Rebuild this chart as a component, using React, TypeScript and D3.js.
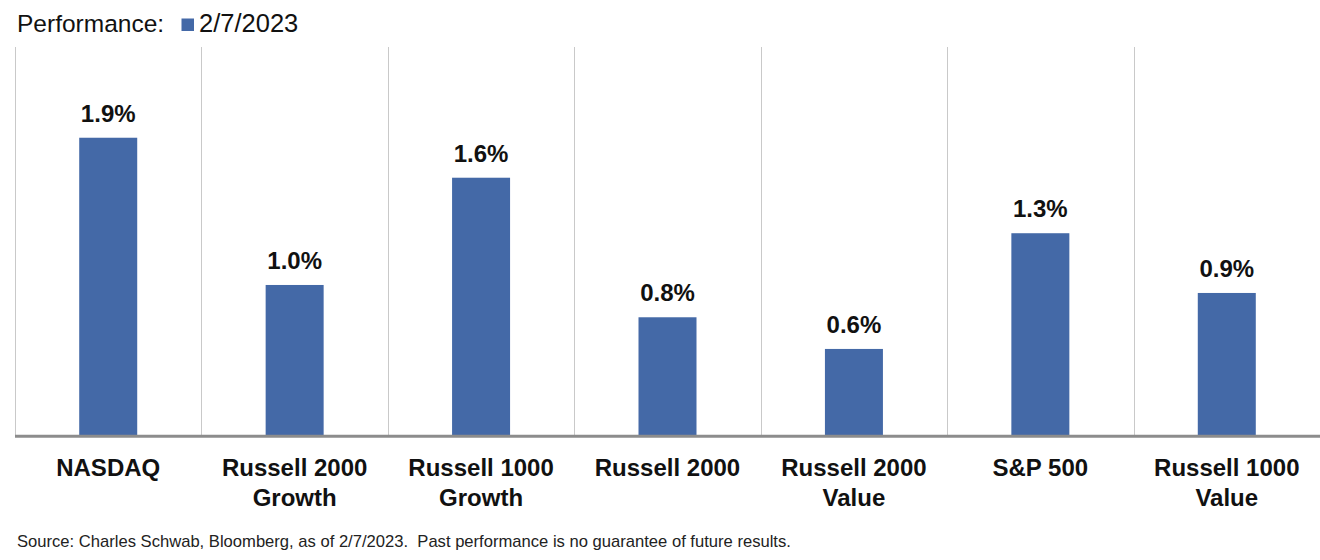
import React from "react";
import * as d3 from "d3";

const categories: string[][] = [
  ["NASDAQ"],
  ["Russell 2000", "Growth"],
  ["Russell 1000", "Growth"],
  ["Russell 2000"],
  ["Russell 2000", "Value"],
  ["S&P 500"],
  ["Russell 1000", "Value"],
];
const values: number[] = [1.899, 0.96, 1.644, 0.754, 0.552, 1.29, 0.909];
const legendTitle = "Performance:";
const seriesName = "2/7/2023";
const source =
  "Source: Charles Schwab, Bloomberg, as of 2/7/2023.  Past performance is no guarantee of future results.";

const W = 1320;
const H = 560;
const BAR = "#4469a7";
const FONT = "'Liberation Sans', Arial, sans-serif";

export default function App() {
  const left = 15;
  const right = 1320;
  const baseline = 435.5;
  const x = d3
    .scaleBand<number>()
    .domain(categories.map((_, i) => i))
    .range([left, right])
    .paddingInner(0)
    .paddingOuter(0);
  const y = d3.scaleLinear().domain([0, 2.5]).range([baseline, baseline - 2.5 * 156.8]);
  const bw = 58;
  const fmt = d3.format(".1f");
  const gridTop = 47;

  return (
    <svg
      width={W}
      height={H}
      style={{ position: "absolute", left: 0, top: 0, background: "#fff" }}
      fontFamily={FONT}
    >
      <rect x={0} y={0} width={W} height={H} fill="#fff" />
      {categories.map((_, i) => (
        <line
          key={"g" + i}
          x1={Math.round(x(i)!) + 0.5}
          x2={Math.round(x(i)!) + 0.5}
          y1={gridTop}
          y2={baseline}
          stroke="#c9c9c9"
          strokeWidth={1}
        />
      ))}
      {values.map((v, i) => {
        const cx = x(i)! + x.bandwidth() / 2;
        return (
          <g key={"b" + i}>
            <rect x={cx - bw / 2} y={y(v)} width={bw} height={baseline - y(v)} fill={BAR} />
            <text
              x={cx}
              y={y(v) - 16}
              textAnchor="middle"
              fontSize={24}
              fontWeight="bold"
              fill="#111"
            >
              {fmt(v) + "%"}
            </text>
          </g>
        );
      })}
      <line x1={left} x2={right} y1={436.3} y2={436.3} stroke="#8c8c8c" strokeWidth={3} />
      {categories.map((lines, i) => {
        const cx = x(i)! + x.bandwidth() / 2;
        return (
          <text key={"c" + i} textAnchor="middle" fontSize={24} fontWeight="bold" fill="#111">
            {lines.map((l, j) => (
              <tspan key={j} x={cx} y={475.5 + j * 30.5}>
                {l}
              </tspan>
            ))}
          </text>
        );
      })}
      <text x={17} y={31.5} fontSize={24.5} fill="#111">
        {legendTitle}
      </text>
      <rect x={181.5} y={18.5} width={12.5} height={12.5} fill={BAR} />
      <text x={199} y={31.5} fontSize={25.5} fill="#111">
        {seriesName}
      </text>
      <text x={17} y={547} fontSize={16.6} fill="#222" style={{ whiteSpace: "pre" }}>
        {source}
      </text>
    </svg>
  );
}
